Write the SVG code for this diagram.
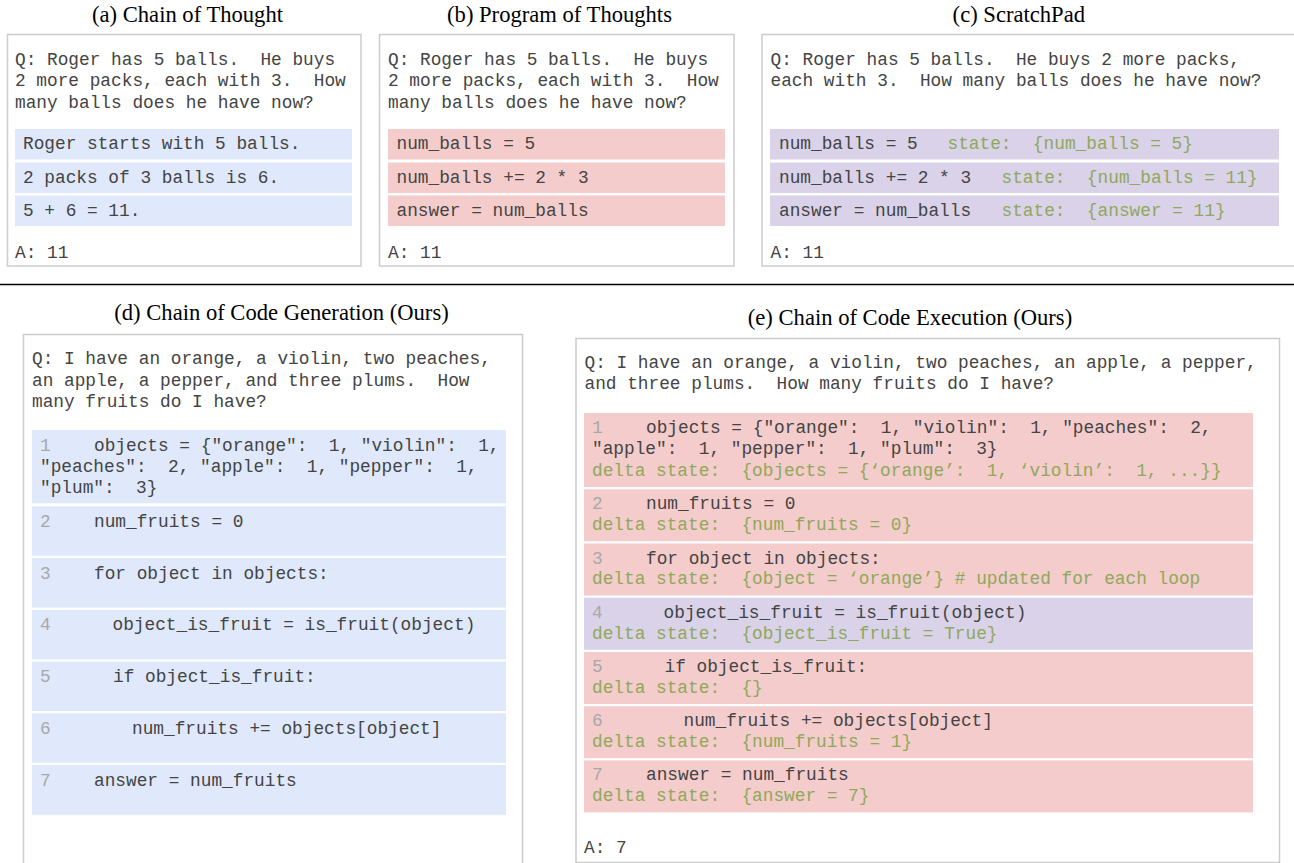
<svg xmlns="http://www.w3.org/2000/svg" width="1294" height="863" viewBox="0 0 1294 863" xml:space="preserve">
<style>
.box{fill:#ffffff;stroke:#cccccc;stroke-width:1.5}
.title{font-family:"Liberation Serif","Times New Roman",serif;font-size:22.6px;fill:#000000;text-anchor:middle}
.t{font-family:"Liberation Mono","Courier New",monospace;font-size:17.8px;fill:#444444;white-space:pre}
.ln{fill:#a8a8a8}
.g{fill:#8fa85a}
.blue{fill:#dfe9fb}
.pink{fill:#f4cccc}
.purple{fill:#d9d2e9}
.sep{stroke:#000000;stroke-width:1.4}
</style>
<rect x="0" y="0" width="1294" height="863" fill="#ffffff"/>
<g id="panel-a">
<text class="title" x="187.5" y="22">(a) Chain of Thought</text>
<rect class="box" x="7.5" y="34.5" width="353.5" height="231.5"/>
<text class="t" x="15" y="64.5">Q: Roger has 5 balls.  He buys</text>
<text class="t" x="15" y="86">2 more packs, each with 3.  How</text>
<text class="t" x="15" y="107.5">many balls does he have now?</text>
<rect class="blue" x="15" y="129" width="337" height="30.5"/>
<rect class="blue" x="15" y="162.5" width="337" height="30.5"/>
<rect class="blue" x="15" y="195.5" width="337" height="30.5"/>
<text class="t" x="23" y="149">Roger starts with 5 balls.</text>
<text class="t" x="23" y="182.5">2 packs of 3 balls is 6.</text>
<text class="t" x="23" y="215.5">5 + 6 = 11.</text>
<text class="t" x="15" y="258">A: 11</text>
</g>
<g id="panel-b">
<text class="title" x="559.5" y="22">(b) Program of Thoughts</text>
<rect class="box" x="379.5" y="34.5" width="354.5" height="231.5"/>
<text class="t" x="388" y="64.5">Q: Roger has 5 balls.  He buys</text>
<text class="t" x="388" y="86">2 more packs, each with 3.  How</text>
<text class="t" x="388" y="107.5">many balls does he have now?</text>
<rect class="pink" x="388" y="129" width="337" height="30.5"/>
<rect class="pink" x="388" y="162.5" width="337" height="30.5"/>
<rect class="pink" x="388" y="195.5" width="337" height="30.5"/>
<text class="t" x="396.5" y="149">num_balls = 5</text>
<text class="t" x="396.5" y="182.5">num_balls += 2 * 3</text>
<text class="t" x="396.5" y="215.5">answer = num_balls</text>
<text class="t" x="388" y="258">A: 11</text>
</g>
<g id="panel-c">
<text class="title" x="1018.8" y="22">(c) ScratchPad</text>
<rect class="box" x="762" y="34.5" width="560" height="231.5"/>
<text class="t" x="770.5" y="64.5">Q: Roger has 5 balls.  He buys 2 more packs,</text>
<text class="t" x="770.5" y="86">each with 3.  How many balls does he have now?</text>
<rect class="purple" x="770" y="129" width="509" height="30.5"/>
<rect class="purple" x="770" y="162.5" width="509" height="30.5"/>
<rect class="purple" x="770" y="195.5" width="509" height="30.5"/>
<text class="t" x="779" y="149">num_balls = 5<tspan class="g" x="947.5">state:  {num_balls = 5}</tspan></text>
<text class="t" x="779" y="182.5">num_balls += 2 * 3<tspan class="g" x="1001.5">state:  {num_balls = 11}</tspan></text>
<text class="t" x="779" y="215.5">answer = num_balls<tspan class="g" x="1001.5">state:  {answer = 11}</tspan></text>
<text class="t" x="770.5" y="258">A: 11</text>
</g>
<g id="separator">
<line class="sep" x1="0" y1="284.5" x2="1294" y2="284.5"/>
</g>
<g id="panel-d">
<text class="title" x="281.5" y="320">(d) Chain of Code Generation (Ours)</text>
<rect class="box" x="23.5" y="334.5" width="499" height="540"/>
<text class="t" x="32" y="364">Q: I have an orange, a violin, two peaches,</text>
<text class="t" x="32" y="385.5">an apple, a pepper, and three plums.  How</text>
<text class="t" x="32" y="407">many fruits do I have?</text>
<rect class="blue" x="32" y="430" width="474" height="73.3"/>
<rect class="blue" x="32" y="506.3" width="474" height="49.5"/>
<rect class="blue" x="32" y="558.1" width="474" height="49.5"/>
<rect class="blue" x="32" y="609.9" width="474" height="49.5"/>
<rect class="blue" x="32" y="661.5" width="474" height="49.5"/>
<rect class="blue" x="32" y="713.3" width="474" height="49.5"/>
<rect class="blue" x="32" y="765" width="474" height="49.8"/>
<text class="t" y="450.5"><tspan class="ln" x="40">1</tspan><tspan x="94">objects = {"orange":  1, "violin":  1,</tspan></text>
<text class="t" x="40" y="471.8">"peaches":  2, "apple":  1, "pepper":  1,</text>
<text class="t" x="40" y="493">"plum":  3}</text>
<text class="t" y="526.8"><tspan class="ln" x="40">2</tspan><tspan x="94">num_fruits = 0</tspan></text>
<text class="t" y="578.6"><tspan class="ln" x="40">3</tspan><tspan x="94">for object in objects:</tspan></text>
<text class="t" y="630.4"><tspan class="ln" x="40">4</tspan><tspan x="112.5">object_is_fruit = is_fruit(object)</tspan></text>
<text class="t" y="682"><tspan class="ln" x="40">5</tspan><tspan x="113">if object_is_fruit:</tspan></text>
<text class="t" y="733.8"><tspan class="ln" x="40">6</tspan><tspan x="132">num_fruits += objects[object]</tspan></text>
<text class="t" y="785.5"><tspan class="ln" x="40">7</tspan><tspan x="94">answer = num_fruits</tspan></text>
</g>
<g id="panel-e">
<text class="title" x="910" y="325">(e) Chain of Code Execution (Ours)</text>
<rect class="box" x="576" y="338.5" width="703.5" height="524"/>
<text class="t" x="584.5" y="367.5">Q: I have an orange, a violin, two peaches, an apple, a pepper,</text>
<text class="t" x="584.5" y="389">and three plums.  How many fruits do I have?</text>
<rect class="pink" x="584" y="413" width="669" height="74"/>
<rect class="pink" x="584" y="489.3" width="669" height="52"/>
<rect class="pink" x="584" y="543.5" width="669" height="52"/>
<rect class="purple" x="584" y="597.7" width="669" height="52"/>
<rect class="pink" x="584" y="652" width="669" height="52"/>
<rect class="pink" x="584" y="706.2" width="669" height="52"/>
<rect class="pink" x="584" y="760.4" width="669" height="52"/>
<text class="t" y="433"><tspan class="ln" x="592">1</tspan><tspan x="646">objects = {"orange":  1, "violin":  1, "peaches":  2,</tspan></text>
<text class="t" x="592" y="454.3">"apple":  1, "pepper":  1, "plum":  3}</text>
<text class="t g" x="592" y="475.5">delta state:  {objects = {‘orange’:  1, ‘violin’:  1, ...}}</text>
<text class="t" y="509.3"><tspan class="ln" x="592">2</tspan><tspan x="646">num_fruits = 0</tspan></text>
<text class="t g" x="592" y="530">delta state:  {num_fruits = 0}</text>
<text class="t" y="563.5"><tspan class="ln" x="592">3</tspan><tspan x="646">for object in objects:</tspan></text>
<text class="t g" x="592" y="584.3">delta state:  {object = ‘orange’} # updated for each loop</text>
<text class="t" y="617.7"><tspan class="ln" x="592">4</tspan><tspan x="663.5">object_is_fruit = is_fruit(object)</tspan></text>
<text class="t g" x="592" y="638.5">delta state:  {object_is_fruit = True}</text>
<text class="t" y="672"><tspan class="ln" x="592">5</tspan><tspan x="664.5">if object_is_fruit:</tspan></text>
<text class="t g" x="592" y="692.8">delta state:  {}</text>
<text class="t" y="726.2"><tspan class="ln" x="592">6</tspan><tspan x="683.5">num_fruits += objects[object]</tspan></text>
<text class="t g" x="592" y="747">delta state:  {num_fruits = 1}</text>
<text class="t" y="780.4"><tspan class="ln" x="592">7</tspan><tspan x="646">answer = num_fruits</tspan></text>
<text class="t g" x="592" y="801.2">delta state:  {answer = 7}</text>
<text class="t" x="584" y="853">A: 7</text>
</g>
</svg>
